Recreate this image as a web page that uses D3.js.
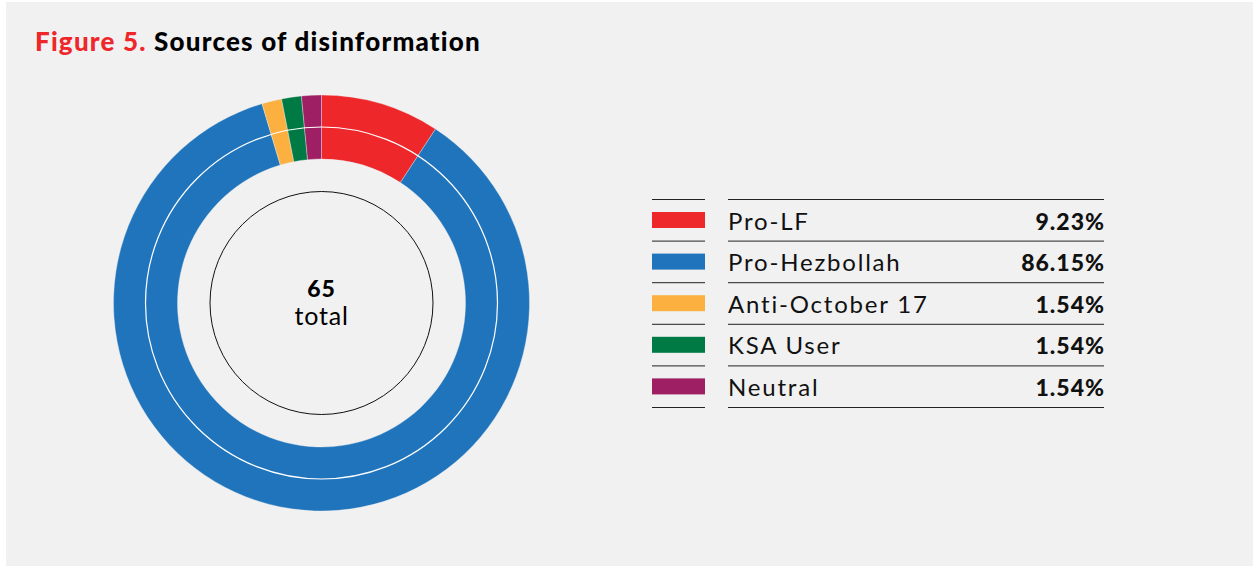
<!DOCTYPE html>
<html>
<head>
<meta charset="utf-8">
<script src="https://cdn.jsdelivr.net/npm/d3@7"></script>
<style>
  body { margin: 0; background: #fff; }
  svg { display: block; }
</style>
</head>
<body>
<div id="chart"></div>
<script>
const categories = ["Pro-LF", "Pro-Hezbollah", "Anti-October 17", "KSA User", "Neutral"];
const counts = [6, 56, 1, 1, 1];
const colors = ["#ee272b", "#1f74bc", "#fbb040", "#007a45", "#9e1f63"];

const W = 1259, H = 569;
const total = d3.sum(counts);
const data = categories.map((c, i) => ({ name: c, value: counts[i], color: colors[i] }));

const svg = d3.select("#chart").append("svg")
    .attr("width", W)
    .attr("height", H);

// panel
svg.append("rect")
    .attr("x", 6).attr("y", 2)
    .attr("width", 1247).attr("height", 564)
    .attr("fill", "#f1f1f1");

// title
const title = svg.append("text")
    .attr("x", 35).attr("y", 51)
    .style("font-family", "Lato, sans-serif")
    .style("font-weight", 900)
    .style("font-size", "26px")
    .style("letter-spacing", "1.2px");
title.append("tspan").attr("fill", "#ee272b").text("Figure 5. ");
title.append("tspan").attr("fill", "#000").text("Sources of disinformation");

// donut
const cx = 321.5, cy = 303;
const g = svg.append("g").attr("transform", `translate(${cx},${cy})`);

const pie = d3.pie().value(d => d.value).sort(null);
const arc = d3.arc().innerRadius(144).outerRadius(208);

g.selectAll("path.slice")
    .data(pie(data))
    .join("path")
    .attr("class", "slice")
    .attr("d", arc)
    .attr("fill", d => d.data.color)
    .attr("stroke", "#f1f1f1")
    .attr("stroke-opacity", 0.6)
    .attr("stroke-width", 0.6);

// white ring line through the donut
g.append("circle")
    .attr("r", 176)
    .attr("fill", "none")
    .attr("stroke", "#fff")
    .attr("stroke-width", 1.2);

// inner outline circle
g.append("circle")
    .attr("r", 111.5)
    .attr("fill", "none")
    .attr("stroke", "#111")
    .attr("stroke-width", 1);

g.append("text")
    .attr("y", -6.5)
    .attr("text-anchor", "middle")
    .style("font-family", "Lato, sans-serif")
    .style("font-weight", 900)
    .style("font-size", "23px")
    .style("letter-spacing", "1px")
    .text(total);

g.append("text")
    .attr("y", 21.5)
    .attr("text-anchor", "middle")
    .style("font-family", "Lato, sans-serif")
    .style("font-weight", 400)
    .style("font-size", "25px")
    .style("letter-spacing", "0.8px")
    .text("total");

// legend table
const rowH = 41.6, tableTop = 199.5;
const rowY = d3.scaleLinear().domain([0, 1]).range([tableTop, tableTop + rowH]);
const legend = svg.append("g");

d3.range(data.length + 1).forEach(i => {
    legend.append("line")
        .attr("x1", 652).attr("x2", 705)
        .attr("y1", rowY(i)).attr("y2", rowY(i))
        .attr("stroke", "#222").attr("stroke-width", 1);
    legend.append("line")
        .attr("x1", 728).attr("x2", 1104)
        .attr("y1", rowY(i)).attr("y2", rowY(i))
        .attr("stroke", "#222").attr("stroke-width", 1);
});

const rows = legend.selectAll("g.row")
    .data(data)
    .join("g")
    .attr("class", "row")
    .attr("transform", (d, i) => `translate(0,${rowY(i)})`);

rows.append("rect")
    .attr("x", 652).attr("y", 12.5)
    .attr("width", 53).attr("height", 16)
    .attr("fill", d => d.color);

rows.append("text")
    .attr("x", 728).attr("y", 30)
    .style("font-family", "Lato, sans-serif")
    .style("font-size", "24px")
    .style("letter-spacing", "1.8px")
    .attr("fill", "#111")
    .text(d => d.name);

rows.append("text")
    .attr("x", 1105).attr("y", 30)
    .attr("text-anchor", "end")
    .style("font-family", "Lato, sans-serif")
    .style("font-weight", 900)
    .style("font-size", "23px")
    .style("letter-spacing", "1px")
    .attr("fill", "#111")
    .text(d => (d.value / total * 100).toFixed(2) + "%");
</script>
</body>
</html>
